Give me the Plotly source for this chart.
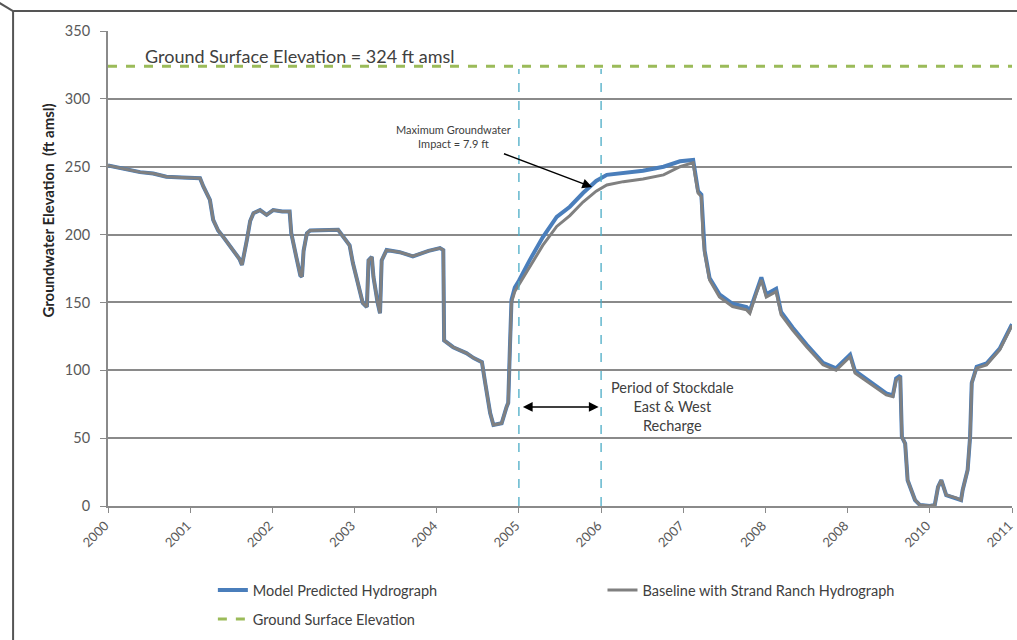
import plotly.graph_objects as go

# Baseline with Strand Ranch hydrograph (decimal year, ft amsl)
base_years = [
    2000.00, 2000.20, 2000.39, 2000.55, 2000.71, 2000.90, 2001.12, 2001.16,
    2001.24, 2001.28, 2001.34, 2001.40, 2001.52, 2001.60, 2001.63, 2001.66,
    2001.69, 2001.73, 2001.77, 2001.85, 2001.93, 2002.01, 2002.12, 2002.21,
    2002.23, 2002.29, 2002.34, 2002.36, 2002.38, 2002.42, 2002.46, 2002.80,
    2002.94, 2002.98, 2003.04, 2003.10, 2003.15, 2003.17, 2003.21, 2003.23,
    2003.28, 2003.31, 2003.33, 2003.39, 2003.55, 2003.71, 2003.90, 2004.04,
    2004.08, 2004.09, 2004.20, 2004.36, 2004.45, 2004.55, 2004.59, 2004.65,
    2004.69, 2004.79, 2004.85, 2004.87,
    2004.89, 2004.91, 2004.95, 2005.00, 2005.13, 2005.29, 2005.46, 2005.62,
    2005.78, 2005.94, 2006.07, 2006.27, 2006.51, 2006.76, 2006.96, 2007.12,
    2007.14, 2007.18, 2007.22, 2007.24, 2007.26, 2007.32, 2007.44, 2007.60,
    2007.77, 2007.81, 2007.89, 2007.95, 2008.01, 2008.13, 2008.19, 2008.33,
    2008.50, 2008.70, 2008.86, 2008.94, 2009.03, 2009.09, 2009.27, 2009.47,
    2009.55, 2009.59, 2009.64, 2009.66, 2009.70, 2009.73, 2009.82, 2009.88,
    2010.00, 2010.06, 2010.10, 2010.14, 2010.20, 2010.32, 2010.38, 2010.40,
    2010.46, 2010.49, 2010.51, 2010.57, 2010.69, 2010.85, 2011.00,
]
base_elev = [
    251, 248.5, 246, 245, 242.6, 242, 241.5, 235.5,
    225.5, 210.8, 203, 198.5, 188.6, 182, 177.6, 186,
    196, 210, 215.8, 218, 214.5, 218, 217, 217,
    201, 183.8, 170, 169, 188, 201, 203, 203.5,
    192, 179, 164, 149.6, 146.6, 181, 183.5, 168.8,
    150, 142, 181, 188.6, 187, 184, 188, 190,
    188.6, 122, 117, 112.7, 109, 106, 90.6, 68.5,
    59.7, 61, 73, 76,
    115, 150, 158, 163, 176, 192, 206, 214,
    224, 232, 236.5, 239, 241, 244, 250, 253,
    245, 230.6, 228, 198.5, 186.5, 166.5, 154, 147,
    144.5, 142, 157, 166.5, 154, 158, 141, 129.7,
    117.4, 104, 100, 105, 110, 98, 90.6, 81.8,
    80.5, 92.8, 95, 51, 46, 19, 4.4, 0.7,
    0, 0.7, 14, 19, 8, 6, 4.4, 11.8,
    26.5, 51, 90.6, 101.6, 104, 115, 133,
]

# Model predicted hydrograph: same record as the baseline up to late 2004,
# then its own values during and after the recharge period
n_shared = 60
model_tail_years = [
    2004.89, 2004.91, 2004.95, 2005.00, 2005.13, 2005.29, 2005.46, 2005.62,
    2005.78, 2005.94, 2006.07, 2006.27, 2006.51, 2006.76, 2006.96, 2007.12,
    2007.14, 2007.18, 2007.22, 2007.24, 2007.26, 2007.32, 2007.44, 2007.60,
    2007.77, 2007.81, 2007.89, 2007.95, 2008.01, 2008.13, 2008.19, 2008.33,
    2008.50, 2008.70, 2008.86, 2008.94, 2009.03, 2009.09, 2009.27, 2009.47,
    2009.55, 2009.59, 2009.64, 2009.66, 2009.70, 2009.73, 2009.82, 2009.88,
    2010.00, 2010.06, 2010.10, 2010.14, 2010.20, 2010.32, 2010.38, 2010.40,
    2010.46, 2010.49, 2010.51, 2010.57, 2010.69, 2010.85, 2011.00,
]
model_tail_elev = [
    116, 152, 161, 166, 181, 198, 213, 220.5,
    230.6, 239.5, 244, 245.5, 247, 250, 254, 255,
    247, 232, 229.5, 200, 188, 168, 156, 149,
    146.5, 144, 159, 168.5, 156, 160, 143, 131.5,
    119, 105.5, 101.5, 106.5, 111.5, 99.5, 92, 83,
    81.5, 94, 96, 51, 46, 19, 4.4, 0.7,
    0, 0.7, 14, 19, 8, 6, 4.4, 11.8,
    26.5, 51, 90.6, 102.5, 105, 116, 134,
]
model_years = base_years[:n_shared] + model_tail_years
model_elev = base_elev[:n_shared] + model_tail_elev

ground_years = [2000, 2011]
ground_elev = [324, 324]

recharge_start = 2005
recharge_end = 2006

tick_years = list(range(2000, 2012))
tick_labels = ["2000", "2001", "2002", "2003", "2004", "2005", "2006",
               "2007", "2008", "2008", "2010", "2011"]

FONT = "Lato, 'Open Sans', sans-serif"
GRID = "#8a8a8a"

fig = go.Figure()
fig.add_trace(go.Scatter(
    x=model_years, y=model_elev, mode="lines",
    name="Model Predicted Hydrograph", legend="legend", showlegend=True,
    line=dict(color="#4a7ebb", width=4),
))
fig.add_trace(go.Scatter(
    x=base_years, y=base_elev, mode="lines",
    name="Baseline with Strand Ranch Hydrograph", legend="legend2",
    showlegend=True, line=dict(color="#808080", width=3),
))
fig.add_trace(go.Scatter(
    x=ground_years, y=ground_elev, mode="lines",
    name="Ground Surface Elevation", legend="legend3", showlegend=True,
    line=dict(color="#9bbb59", width=3, dash="dash"),
))

# recharge period markers
for yr in (recharge_start, recharge_end):
    fig.add_shape(type="line", xref="x", yref="y", x0=yr, x1=yr, y0=0, y1=322,
                  line=dict(color="#4bacc6", width=1.3, dash="dash"))

fig.add_annotation(x=recharge_end - 0.03, y=73, ax=recharge_start + 0.03, ay=73,
                   xref="x", yref="y", axref="x", ayref="y", text="",
                   showarrow=True, arrowhead=2, startarrowhead=2,
                   arrowside="end+start", arrowsize=1.3, arrowwidth=1.5,
                   arrowcolor="black")
fig.add_annotation(x=2006.87, y=73, xref="x", yref="y", showarrow=False,
                   text="Period of Stockdale<br>East &amp; West<br>Recharge",
                   font=dict(family=FONT, size=14.5, color="#404040"))

fig.add_annotation(x=2004.2, y=272, xref="x", yref="y", showarrow=False,
                   text="Maximum Groundwater<br>Impact = 7.9 ft",
                   font=dict(family=FONT, size=11, color="#404040"))
fig.add_annotation(x=2005.89, y=235, ax=2004.8, ay=260,
                   xref="x", yref="y", axref="x", ayref="y", text="",
                   showarrow=True, arrowhead=2, arrowsize=1.3, arrowwidth=1.5,
                   arrowcolor="black")

fig.add_annotation(x=2000.43, y=331.5, xref="x", yref="y", xanchor="left",
                   showarrow=False, text="Ground Surface Elevation = 324 ft amsl",
                   font=dict(family=FONT, size=18, color="#404040"))

# y-axis title sits above the middle of the axis in the original
fig.add_annotation(x=-0.079, y=0.621, xref="paper", yref="paper",
                   textangle=-90, showarrow=False,
                   text="<b>Groundwater Elevation  (ft amsl)</b>",
                   font=dict(family=FONT, size=15, color="#262626"))

# outer frame of the original figure
frame = dict(color="#555555", width=2)
fig.add_shape(type="line", xref="paper", yref="paper",
              x0=-0.105, x1=1.01, y0=1.042, y1=1.042, line=frame)
fig.add_shape(type="line", xref="paper", yref="paper",
              x0=-0.105, x1=-0.105, y0=1.042, y1=-0.3, line=frame)
fig.add_shape(type="line", xref="paper", yref="paper",
              x0=-0.12, x1=-0.105, y0=1.059, y1=1.042, line=frame)

fig.update_xaxes(
    range=[2000, 2011], tickvals=tick_years, ticktext=tick_labels,
    tickangle=-45, ticks="outside", ticklen=5, tickcolor=GRID,
    showline=True, linecolor=GRID, linewidth=2, showgrid=False,
    zeroline=False, automargin=False, ticklabeloverflow="allow",
    ticklabelshift=-3,
    tickfont=dict(family=FONT, size=13, color="#595959"),
)
fig.update_yaxes(
    range=[0, 350], dtick=50, ticks="outside", ticklen=6, tickcolor=GRID,
    showline=True, linecolor=GRID, linewidth=2,
    showgrid=True, gridcolor=GRID, gridwidth=2, zeroline=False,
    ticklabelstandoff=7, automargin=False,
    tickfont=dict(family=FONT, size=14.5, color="#595959"),
)

legend_style = dict(orientation="h", xanchor="left", yanchor="middle",
                    font=dict(family=FONT, size=14.5, color="#404040"),
                    bgcolor="rgba(0,0,0,0)")
fig.update_layout(
    width=1017, height=640, showlegend=True,
    margin=dict(l=108, r=5, t=31, b=134, autoexpand=False),
    paper_bgcolor="white", plot_bgcolor="white",
    font=dict(family=FONT, color="#404040"),
    legend=dict(x=0.116, y=-0.177, **legend_style),
    legend2=dict(x=0.547, y=-0.177, **legend_style),
    legend3=dict(x=0.116, y=-0.238, **legend_style),
)

# the page's default body margin would shift the chart by 8px
fig.write_html("out.html", config={"displayModeBar": False},
               post_script="document.body.style.margin = '0';")
